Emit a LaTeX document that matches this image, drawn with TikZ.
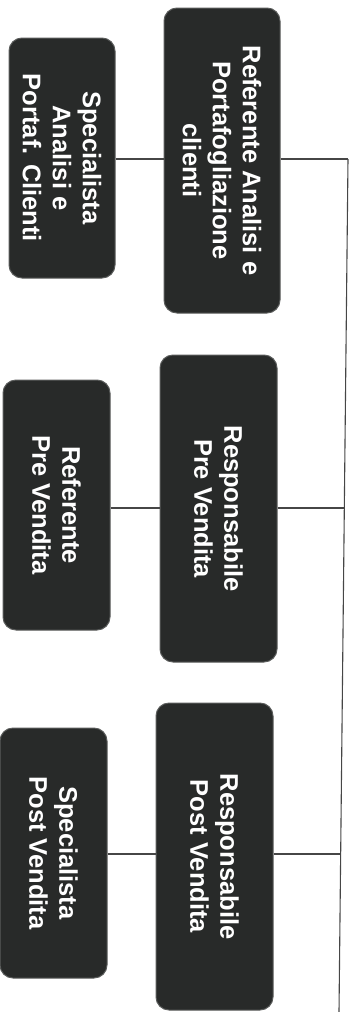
\documentclass[tikz,border=0pt]{standalone}
\usepackage{fontspec}
\setmainfont{Liberation Sans}
\definecolor{boxfill}{RGB}{40,42,41}
\definecolor{boxedge}{RGB}{90,92,91}
\definecolor{linecol}{RGB}{70,70,70}
\begin{document}
\begin{tikzpicture}[x=1pt,y=-1pt,
  orgbox/.style={rectangle, rounded corners=13pt, fill=boxfill, draw=boxedge, line width=1pt,
    text=white, font=\fontsize{25.5}{30}\selectfont\bfseries, align=center, rotate=-90, inner sep=0pt},
  conn/.style={draw=linecol, line width=1.1pt}]
\useasboundingbox (0,0) rectangle (351,1012);
% boxes: minimum width = vertical extent, minimum height = horizontal extent
\node[orgbox, minimum width=305pt, minimum height=116pt] (b1) at (222,160.5) {Referente Analisi e\\Portafogliazione\\clienti};
\node[orgbox, minimum width=240pt, minimum height=106pt] (b2) at (62,158) {Specialista\\Analisi e\\Portaf. Clienti};
\node[orgbox, minimum width=307pt, minimum height=117pt] (b3) at (218.5,508.5) {Responsabile\\Pre Vendita};
\node[orgbox, minimum width=250pt, minimum height=107pt] (b4) at (56.5,505) {Referente\\Pre Vendita};
\node[orgbox, minimum width=307pt, minimum height=117pt] (b5) at (214.5,856.5) {Responsabile\\Post Vendita};
\node[orgbox, minimum width=250pt, minimum height=107pt] (b6) at (53.5,853) {Specialista\\Post Vendita};
% junctions on the vertical line
\coordinate (j1) at (348,159);
\coordinate (j2) at (344.3,508);
\coordinate (j3) at (340.7,854);
\coordinate (jb) at (339,1012);
\draw[conn] (j1) -- (jb);
\draw[conn] (b1.north |- j1) -- (j1);
\draw[conn] (b3.north |- j2) -- (j2);
\draw[conn] (b5.north |- j3) -- (j3);
\draw[conn] (b2.north |- j1) -- (b1.south |- j1);
\draw[conn] (b4.north |- j2) -- (b3.south |- j2);
\draw[conn] (b6.north |- j3) -- (b5.south |- j3);
\end{tikzpicture}
\end{document}
